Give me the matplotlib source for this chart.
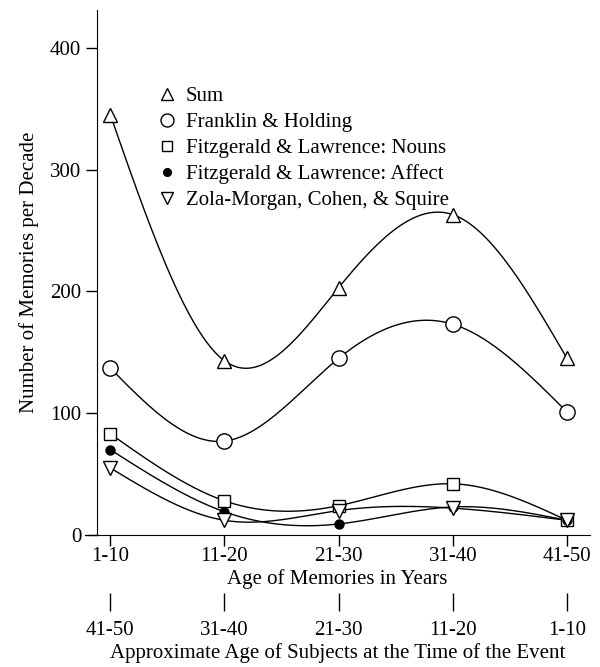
import numpy as np
import matplotlib
matplotlib.use("Agg")
from matplotlib import pyplot as plt
from matplotlib.lines import Line2D

plt.rcParams['font.family'] = ['Liberation Serif', 'DejaVu Serif']

memory_age = ['1-10', '11-20', '21-30', '31-40', '41-50']
subject_age = ['41-50', '31-40', '21-30', '11-20', '1-10']

sum_vals = [345, 143, 203, 263, 145]
franklin = [137, 77, 145, 173, 101]
fitz_nouns = [83, 28, 24, 42, 12]
fitz_affect = [70, 19, 9, 23, 12]
zola = [55, 12, 20, 22, 12]


def natural_spline(x, y, n=200):
    x = np.asarray(x, float)
    y = np.asarray(y, float)
    k = len(x)
    h = np.diff(x)
    A = np.zeros((k, k))
    b = np.zeros(k)
    A[0, 0] = 1
    A[-1, -1] = 1
    for i in range(1, k - 1):
        A[i, i - 1] = h[i - 1]
        A[i, i] = 2 * (h[i - 1] + h[i])
        A[i, i + 1] = h[i]
        b[i] = 6 * ((y[i + 1] - y[i]) / h[i] - (y[i] - y[i - 1]) / h[i - 1])
    M = np.linalg.solve(A, b)
    xs = np.linspace(x[0], x[-1], n)
    ys = np.empty_like(xs)
    for j, t in enumerate(xs):
        i = min(np.searchsorted(x, t, side='right') - 1, k - 2)
        dx = x[i + 1] - x[i]
        a = (x[i + 1] - t) / dx
        c = (t - x[i]) / dx
        ys[j] = (a * y[i] + c * y[i + 1]
                 + ((a ** 3 - a) * M[i] + (c ** 3 - c) * M[i + 1]) * dx ** 2 / 6)
    return xs, ys


fig = plt.figure(figsize=(6, 6.67), dpi=100)
ax = fig.add_axes([0.142, 0.198, 0.841, 0.787])

pos = np.arange(len(memory_age))

series = [
    (sum_vals, '^', 10, 'white', 'Sum'),
    (franklin, 'o', 11, 'white', 'Franklin & Holding'),
    (fitz_nouns, 's', 8, 'white', 'Fitzgerald & Lawrence: Nouns'),
    (fitz_affect, 'o', 6.5, 'black', 'Fitzgerald & Lawrence: Affect'),
    (zola, 'v', 10, 'white', 'Zola-Morgan, Cohen, & Squire'),
]

handles = []
for vals, mk, ms, fc, lab in series:
    xs, ys = natural_spline(pos, vals)
    ax.plot(xs, ys, color='black', lw=1.0, zorder=2)
    ax.plot(pos, vals, linestyle='none', marker=mk, markersize=ms,
            mfc=fc, mec='black', mew=1.0, zorder=3, clip_on=False)
    handles.append(Line2D([], [], linestyle='none', marker=mk,
                          markersize=ms * 0.85, mfc=fc, mec='black',
                          mew=1.0, label=lab))

ax.set_xlim(-0.22, 4.2)
ax.set_ylim(0, 431)
ax.spines['left'].set_position(('data', -0.12))
ax.spines['top'].set_visible(False)
ax.spines['right'].set_visible(False)

ax.set_yticks([0, 100, 200, 300, 400])
ax.tick_params(axis='y', direction='out', length=8, width=1, labelsize=15, pad=3)
ax.set_ylabel('Number of Memories per Decade', fontsize=15, labelpad=8)

ax.set_xticks(pos)
ax.set_xticklabels(memory_age)
ax.tick_params(axis='x', direction='out', length=8, width=1, labelsize=15, pad=1)
ax.set_xlabel('Age of Memories in Years', fontsize=15, labelpad=2)

ax2 = ax.twiny()
ax2.set_xlim(ax.get_xlim())
ax2.xaxis.set_ticks_position('bottom')
ax2.xaxis.set_label_position('bottom')
ax2.spines['bottom'].set_position(('outward', 42))
for s in ax2.spines.values():
    s.set_visible(False)
ax2.set_xticks(pos)
ax2.set_xticklabels(subject_age)
ax2.tick_params(axis='x', direction='out', length=13, width=1, labelsize=15, pad=7)
ax2.set_xlabel('Approximate Age of Subjects at the Time of the Event',
               fontsize=15, labelpad=2)

ax.legend(handles=handles, loc='upper left', bbox_to_anchor=(0.265, 0.87),
          bbox_transform=fig.transFigure, frameon=False, fontsize=15,
          handlelength=0.8, handletextpad=0.5, labelspacing=0.3,
          borderaxespad=0, borderpad=0)

fig.savefig('out.png', dpi=100)
